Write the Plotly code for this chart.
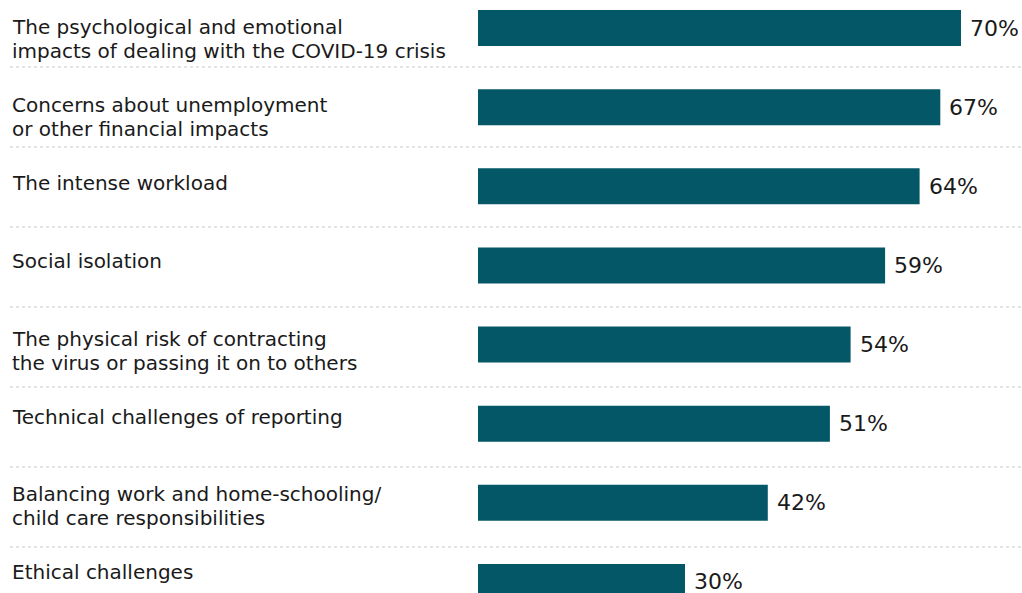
import plotly.graph_objects as go

categories = [
    "The psychological and emotional<br>impacts of dealing with the COVID-19 crisis",
    "Concerns about unemployment<br>or other financial impacts",
    "The intense workload",
    "Social isolation",
    "The physical risk of contracting<br>the virus or passing it on to others",
    "Technical challenges of reporting",
    "Balancing work and home-schooling/<br>child care responsibilities",
    "Ethical challenges",
]
values = [70, 67, 64, 59, 54, 51, 42, 30]
value_labels = [f"{v}%" for v in values]

BAR_COLOR = "#045767"
TEXT_COLOR = "#1a1a1a"
FONT = "DejaVu Sans"

W, H = 1022, 593
x0_px, px_per_unit = 478, 6.9
row0_px, pitch = 28, 79.14
LINE_PITCH = 24

positions = list(range(len(values)))

fig = go.Figure(go.Bar(
    x=values, y=positions, orientation="h",
    marker=dict(color=BAR_COLOR, line=dict(width=0)),
    width=36 / pitch,
    hoverinfo="skip",
))

annotations = []
for i, lab in enumerate(categories):
    for j, line in enumerate(lab.split("<br>")):
        annotations.append(dict(
            x=10 / W, xref="paper", xanchor="left",
            y=i, yref="y", yanchor="middle",
            yshift=1 + 1.24 * i - LINE_PITCH * j,
            text=line, showarrow=False, align="left",
            font=dict(family=FONT, size=20, color=TEXT_COLOR),
        ))
for i, (v, t) in enumerate(zip(values, value_labels)):
    annotations.append(dict(
        x=v, xref="x", xanchor="left", xshift=7,
        y=i, yref="y", yanchor="middle",
        text=t, showarrow=False,
        font=dict(family=FONT, size=22, color=TEXT_COLOR),
    ))

shapes = []
for i in range(len(values) - 1):
    ypx = 67 + 80 * i
    shapes.append(dict(
        type="line", xref="paper", yref="paper",
        x0=10 / W, x1=1.0, y0=1 - ypx / H, y1=1 - ypx / H,
        line=dict(color="#c8c8c8", width=1, dash="dot"),
    ))

fig.update_layout(
    width=W, height=H,
    margin=dict(l=0, r=0, t=0, b=0),
    paper_bgcolor="white", plot_bgcolor="white",
    showlegend=False,
    xaxis=dict(range=[-x0_px / px_per_unit, (W - x0_px) / px_per_unit],
               visible=False, fixedrange=True),
    yaxis=dict(range=[(H - row0_px) / pitch, -row0_px / pitch],
               visible=False, fixedrange=True),
    annotations=annotations, shapes=shapes,
    font=dict(family=FONT, color=TEXT_COLOR),
)

fig.write_html("out.html", config={"displayModeBar": False})
